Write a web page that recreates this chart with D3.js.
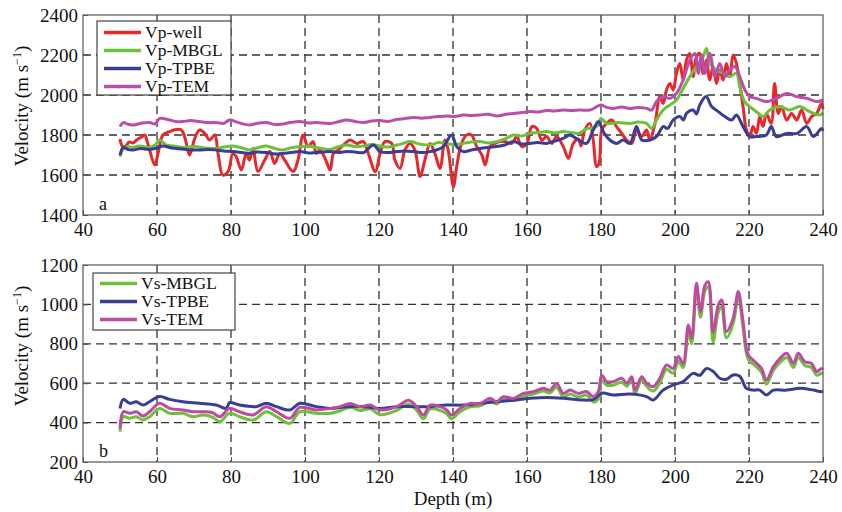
<!DOCTYPE html>
<html>
<head>
<meta charset="utf-8">
<script src="https://cdn.jsdelivr.net/npm/d3@7/dist/d3.min.js"></script>
<style>
  body { margin: 0; background: #fff; }
  svg text { font-family: "Liberation Serif", "Times New Roman", serif; fill: #111; }
</style>
</head>
<body>
<div id="chart"></div>
<script>
// depth ticks and velocity ticks
const depthTicks = [40, 60, 80, 100, 120, 140, 160, 180, 200, 220, 240]
const vpTicks = [1400, 1600, 1800, 2000, 2200, 2400]
const vsTicks = [200, 400, 600, 800, 1000, 1200]

// panel a: [depth, Vp]
const vpWell = [[50,1780],[50.6,1745],[51.3,1740],[52.5,1765],[53.5,1760],[54.5,1775],[55.8,1790],[56.7,1800],[57.3,1770],[58,1725],[59.4,1650],[60.3,1710],[61.6,1800],[63.4,1817],[65.2,1828],[66.6,1825],[67.5,1790],[68.8,1700],[70.2,1783],[71.5,1825],[72.9,1808],[74.2,1775],[75.6,1800],[76.5,1708],[77.8,1600],[79.2,1617],[80.5,1708],[81.4,1692],[82.8,1625],[84.1,1708],[85,1675],[85.9,1733],[87.3,1617],[89.1,1675],[90.5,1717],[91.8,1658],[93.2,1708],[94.5,1675],[96.8,1617],[98.1,1675],[99.5,1800],[100.8,1742],[102.2,1767],[103,1708],[104,1725],[105.5,1680],[106.8,1625],[107.7,1708],[109,1725],[110.4,1750],[112.2,1775],[114,1758],[115.8,1767],[117.1,1708],[119,1617],[120.3,1708],[121.6,1767],[123.4,1758],[124.3,1675],[125.7,1633],[127,1725],[128.4,1758],[129.7,1725],[131.1,1592],[132.4,1675],[133.8,1758],[135.1,1708],[136.5,1633],[137.8,1775],[138.7,1725],[140.1,1542],[141,1642],[142.3,1758],[143.7,1800],[145,1800],[146.4,1742],[147.8,1700],[148.7,1650],[150,1742],[151.4,1758],[152.7,1767],[154,1767],[155.9,1758],[157.2,1792],[158.6,1742],[160,1758],[161.3,1842],[162.6,1833],[164,1775],[165.3,1792],[166.7,1758],[168,1792],[169.8,1742],[171.2,1683],[172.5,1758],[173.9,1780],[174.6,1745],[175.6,1825],[177,1858],[177.9,1775],[178.8,1642],[179.5,1660],[180.2,1825],[181.5,1858],[182.9,1875],[184.2,1842],[185.6,1808],[186.9,1775],[188.3,1758],[189.6,1825],[191,1792],[192.3,1825],[193.2,1775],[194.6,1858],[195.9,1992],[196.8,1958],[197.7,2025],[198.6,2058],[199.5,2025],[200.4,2108],[201.3,2158],[202.2,2075],[203.1,2175],[204,2208],[204.9,2092],[205.8,2192],[206.7,2208],[207.6,2108],[208.5,2175],[209.4,2075],[210.3,2142],[211.2,2058],[212.1,2125],[213,2075],[213.9,2158],[214.8,2092],[215.7,2200],[216.6,2158],[217.5,2058],[218.4,1942],[219.3,1825],[220.2,1792],[221.1,1842],[222,1808],[222.9,1892],[223.8,1842],[224.7,1908],[226,1858],[226.9,2058],[227.9,1908],[228.8,1942],[230.2,1875],[231.5,1908],[232.9,1875],[234.2,1925],[235.6,1858],[236.9,1892],[238.3,1908],[239.6,1958],[240,1930]]
const vpMBGL = [[50,1692],[50.9,1733],[52,1742],[53.5,1738],[55,1745],[58,1738],[59.5,1750],[60.7,1775],[62.5,1750],[64.5,1745],[67,1738],[70,1742],[73,1735],[76,1733],[78,1740],[80.5,1745],[83,1735],[85,1725],[87,1735],[89.5,1745],[92,1732],[94,1725],[96,1735],[98.6,1742],[101,1745],[103,1738],[106.8,1728],[109,1742],[111.3,1750],[113.5,1742],[115.8,1745],[118,1752],[120.3,1745],[122.5,1740],[124.8,1750],[126.5,1758],[128.4,1767],[131,1755],[133.8,1750],[136,1762],[138.3,1758],[140.5,1752],[142.8,1758],[145,1765],[147.3,1767],[149.5,1760],[151.8,1767],[154,1780],[156.3,1800],[158.5,1795],[160.8,1808],[163,1812],[165.3,1817],[167.5,1810],[169.8,1817],[172,1812],[173.9,1808],[176,1830],[178.8,1842],[180,1883],[181.5,1858],[184.5,1862],[187.8,1858],[190,1865],[192.3,1858],[193.7,1833],[195,1875],[196.8,1925],[198.6,1950],[200.4,1975],[202.2,2033],[204,2092],[205.8,2142],[207.6,2192],[208.5,2233],[209.4,2158],[211.2,2125],[213,2108],[214.8,2092],[216.6,2108],[217.5,2042],[218.8,1967],[220.2,1942],[222,1917],[223.8,1892],[225.6,1925],[228.3,1942],[231,1925],[233.7,1942],[236.4,1917],[239,1900],[240,1910]]
const vpTPBE = [[50,1700],[50.9,1738],[52,1728],[53.5,1725],[55.5,1732],[58,1728],[60,1735],[61.6,1745],[64,1735],[67,1730],[69,1725],[71.5,1725],[74,1728],[76,1725],[78,1720],[80.5,1717],[83,1712],[85,1708],[87,1715],[89.5,1712],[92,1705],[94,1708],[96,1712],[98.6,1717],[101,1710],[103,1712],[106.8,1717],[109,1712],[111.3,1717],[113.5,1715],[115.8,1712],[118.5,1750],[120.3,1717],[122.5,1712],[124.8,1717],[127,1720],[129.3,1717],[131.5,1712],[133.8,1717],[135.5,1725],[137.4,1742],[139.6,1800],[141,1742],[142.8,1717],[145,1725],[147.3,1733],[149.5,1738],[151.8,1742],[154,1750],[156.3,1767],[158.5,1755],[160.8,1758],[163,1762],[165.3,1758],[167.5,1770],[169.8,1783],[171.6,1800],[173.9,1775],[176.1,1758],[177.9,1825],[179.3,1867],[180.6,1817],[182.4,1775],[184.2,1758],[186,1775],[187.8,1758],[189.6,1842],[191,1775],[193.2,1775],[195,1792],[196.8,1842],[198,1833],[199.5,1875],[201.3,1892],[202.3,1875],[203.1,1908],[204.9,1925],[205.8,1905],[206.7,1950],[208.4,1992],[209.9,1942],[211.7,1917],[213.5,1892],[215.3,1875],[216.6,1900],[218.4,1842],[220.2,1792],[222,1792],[224.7,1800],[226,1842],[227.4,1792],[230.2,1808],[233,1808],[235.6,1842],[237.4,1792],[239.6,1833],[240,1820]]
const vpTEM = [[50,1842],[50.9,1862],[52,1855],[53.5,1850],[55.5,1858],[58,1862],[59.5,1855],[60.7,1883],[63.4,1875],[65,1868],[67,1867],[69,1872],[71.5,1867],[74,1862],[76,1862],[78,1858],[79.6,1875],[82,1862],[85,1850],[87,1858],[89.5,1862],[92,1852],[94,1855],[96,1862],[98.6,1867],[101,1860],[103,1862],[106.8,1858],[109,1866],[111.3,1875],[113.5,1868],[115.8,1862],[118,1870],[120.3,1872],[122.5,1868],[124.8,1878],[127,1882],[129.3,1888],[131.5,1884],[133.8,1888],[136,1892],[138.3,1895],[140.5,1892],[142.8,1900],[145,1898],[147.3,1900],[149.5,1904],[151.8,1895],[154,1902],[156.3,1908],[158.5,1912],[160.8,1917],[163,1915],[165.3,1922],[167.5,1920],[169.8,1925],[172,1922],[174.3,1925],[177,1925],[180,1950],[181.5,1938],[183.3,1933],[185.5,1940],[187.8,1933],[190,1938],[192.3,1933],[193.7,1925],[195,1967],[196.8,1992],[198.6,1983],[200.4,2008],[202.2,2075],[204,2175],[205.4,2208],[206.3,2108],[207.2,2200],[208.1,2108],[209.4,2208],[210.8,2092],[212.1,2158],[213.5,2092],[214.8,2125],[216.2,2142],[217.5,2092],[218.9,2025],[220.2,1992],[222,1983],[224.7,1967],[227.4,1983],[230.2,2008],[232.9,1992],[235.6,1983],[238.3,1967],[240,1975]]

// panel b: [depth, Vs]
const vsMBGL = [[50,354],[50.9,430],[52.6,422],[54.4,430],[56.2,413],[58,430],[60.7,472],[63.4,447],[67,447],[69.7,430],[72.4,438],[75,428],[77,405],[79.6,447],[82.3,430],[86,413],[89.5,455],[92.3,430],[95.9,396],[98.6,455],[103,447],[106.8,447],[109.5,460],[112.2,478],[114.9,462],[117.6,470],[120.3,440],[124.8,462],[128,495],[130.2,462],[132,420],[133.8,470],[136.5,462],[138.3,445],[139.6,420],[141.9,455],[144.6,480],[147.3,485],[150,510],[151.8,495],[153.6,518],[156.3,512],[159,535],[161.7,545],[164.4,560],[166.2,550],[168,580],[169.8,530],[171.6,545],[173.9,530],[176.1,540],[177.9,505],[179.3,520],[180.2,615],[181.5,590],[183.3,590],[185.6,605],[187,585],[188.3,615],[189.2,548],[191,615],[192.3,585],[194.1,560],[195.9,600],[197.7,670],[199.5,650],[200.9,710],[202.2,680],[203.6,860],[204.5,800],[205.8,1080],[206.9,935],[208.1,1070],[209,1090],[210.3,810],[211.7,960],[212.6,990],[213.9,830],[215.7,900],[217.1,1040],[218.4,880],[219.8,720],[221.6,690],[223.4,655],[224.7,595],[226.6,665],[228.4,705],[230.2,730],[232,680],[233.3,730],[235.1,690],[236.9,680],[238.3,640],[239.6,650],[240,648]]
const vsTPBE = [[50,472],[50.9,518],[52.6,498],[54.4,506],[56.2,489],[58,506],[60.7,532],[63.4,518],[67,506],[71.5,498],[76,489],[78.7,472],[79.6,501],[82.3,489],[86.8,481],[89.5,498],[92.3,481],[95.9,464],[98.6,498],[103,481],[106.8,472],[111.3,481],[115.8,481],[120.3,472],[124.8,481],[129.3,481],[133.8,481],[138.3,489],[142.8,489],[147.3,497],[151.8,506],[156.3,514],[160.8,523],[165.3,527],[169.8,523],[174.3,515],[177.9,517],[180.2,549],[183.3,540],[187.8,545],[192.3,532],[194.1,515],[196.8,565],[199.5,591],[202.2,608],[204.9,650],[206.7,640],[208.5,675],[210.3,660],[212.1,625],[213.9,620],[215.7,642],[217.5,635],[219.3,574],[221.1,565],[222.9,565],[224.7,540],[226.6,565],[230.2,565],[233.8,574],[237.4,565],[239.6,557],[240,560]]
const vsTEM = [[50,370],[50.9,455],[52.6,447],[54.4,455],[56.2,433],[58,455],[60.7,498],[63.4,472],[67,464],[69.7,455],[72.4,455],[75,450],[77,430],[79.6,472],[82.3,455],[86,439],[89.5,481],[92.3,455],[95.9,422],[98.6,477],[103,464],[106.8,472],[109.5,481],[112.2,497],[114.9,481],[117.6,489],[120.3,464],[124.8,481],[128,514],[130.2,481],[132,438],[133.8,489],[136.5,481],[138.3,464],[139.6,438],[141.9,472],[144.6,497],[147.3,497],[150,523],[151.8,506],[153.6,531],[156.3,523],[159,548],[161.7,557],[164.4,574],[166.2,565],[168,599],[169.8,548],[171.6,565],[173.9,548],[176.1,558],[177.9,532],[179.3,560],[180.2,642],[181.5,608],[183.3,608],[185.6,625],[187,600],[188.3,633],[189.2,565],[191,633],[192.3,600],[194.1,582],[195.9,625],[197.7,692],[199.5,675],[200.9,735],[202.2,700],[203.6,895],[204.5,828],[205.8,1107],[206.9,963],[208.1,1098],[209,1115],[210.3,860],[211.7,997],[212.6,1022],[213.9,862],[215.7,929],[217.1,1065],[218.4,912],[219.8,743],[221.6,709],[223.4,675],[224.7,616],[226.6,684],[228.4,726],[230.2,752],[232,701],[233.3,752],[235.1,709],[236.9,700],[238.3,659],[239.6,675],[240,670]]

const red = '#e8272b', green = '#6cc03a', blue = '#3a3d94', magenta = '#bb4ea9', pink = '#c04aa0'

const W = 842, H = 512
const svg = d3.select('#chart').append('svg')
  .attr('width', W).attr('height', H)

const x = d3.scaleLinear().domain([40, 240]).range([83, 823])

function panel (top, bottom, yTicks, series, legend, letter, labelY) {
  let y = d3.scaleLinear().domain([yTicks[0], yTicks[yTicks.length - 1]]).range([bottom, top])
  let g = svg.append('g')

  // dashed grid
  g.selectAll('.gx').data(depthTicks.slice(1, -1)).enter().append('line')
    .attr('x1', d => x(d)).attr('x2', d => x(d))
    .attr('y1', top).attr('y2', bottom)
    .attr('stroke', '#333').attr('stroke-width', 1.3).attr('stroke-dasharray', '8,5')
  g.selectAll('.gy').data(yTicks.slice(1, -1)).enter().append('line')
    .attr('x1', x(40)).attr('x2', x(240))
    .attr('y1', d => y(d)).attr('y2', d => y(d))
    .attr('stroke', '#333').attr('stroke-width', 1.3).attr('stroke-dasharray', '8,5')

  let line = d3.line().x(d => x(d[0])).y(d => y(d[1])).curve(d3.curveCatmullRom.alpha(0.5))
  series.forEach(s => {
    g.append('path').datum(s.data)
      .attr('d', line)
      .attr('fill', 'none')
      .attr('stroke', s.color)
      .attr('stroke-width', 3)
      .attr('stroke-linejoin', 'round')
  })

  // box
  g.append('rect')
    .attr('x', x(40)).attr('y', top)
    .attr('width', x(240) - x(40)).attr('height', bottom - top)
    .attr('fill', 'none').attr('stroke', '#555').attr('stroke-width', 1.2)

  // axes
  g.append('g').attr('transform', `translate(0,${bottom})`)
    .call(d3.axisBottom(x).tickValues(depthTicks).tickSize(-5).tickPadding(8).tickFormat(d3.format('d')))
    .call(a => a.select('.domain').remove())
    .call(a => a.selectAll('line').attr('stroke', '#555'))
    .call(a => a.selectAll('text').attr('font-size', 19).style('font-family', '"Liberation Serif", serif').attr('fill', '#111'))
  g.append('g').attr('transform', `translate(${x(40)},0)`)
    .call(d3.axisLeft(y).tickValues(yTicks).tickSize(-5).tickPadding(5).tickFormat(d3.format('d')))
    .call(a => a.select('.domain').remove())
    .call(a => a.selectAll('line').attr('stroke', '#555'))
    .call(a => a.selectAll('text').attr('font-size', 19).style('font-family', '"Liberation Serif", serif').attr('fill', '#111'))

  // legend
  let lg = g.append('g')
  lg.append('rect')
    .attr('x', legend.x).attr('y', legend.y)
    .attr('width', legend.w).attr('height', legend.h)
    .attr('fill', '#fff').attr('stroke', '#444').attr('stroke-width', 1.2)
  series.slice().sort((a, b) => a.order - b.order).forEach((s, i) => {
    let ly = legend.row0 + i * legend.step
    lg.append('line')
      .attr('x1', legend.x + 7).attr('x2', legend.x + 44)
      .attr('y1', ly).attr('y2', ly)
      .attr('stroke', s.color).attr('stroke-width', 3.5)
    lg.append('text')
      .attr('x', legend.x + 48).attr('y', ly + 5.5)
      .attr('font-size', 17.5)
      .text(s.name)
  })

  g.append('text').attr('x', 99).attr('y', bottom - 5).attr('font-size', 18).text(letter)

  g.append('text')
    .attr('transform', `translate(28,${labelY}) rotate(-90)`)
    .attr('text-anchor', 'middle')
    .attr('font-size', 19)
    .html('Velocity (m s<tspan dy="-7" font-size="12">−1</tspan><tspan dy="7">)</tspan>')
}

panel(15, 215, vpTicks, [
  { name: 'Vp-well', color: red, data: vpWell, order: 0 },
  { name: 'Vp-MBGL', color: green, data: vpMBGL, order: 1 },
  { name: 'Vp-TPBE', color: blue, data: vpTPBE, order: 2 },
  { name: 'Vp-TEM', color: magenta, data: vpTEM, order: 3 }
], { x: 97, y: 21, w: 134, h: 74, row0: 32.5, step: 18 }, 'a', 106)

panel(265, 462, vsTicks, [
  { name: 'Vs-MBGL', color: green, data: vsMBGL, order: 0 },
  { name: 'Vs-TPBE', color: blue, data: vsTPBE, order: 1 },
  { name: 'Vs-TEM', color: pink, data: vsTEM, order: 2 }
], { x: 93, y: 273, w: 142, h: 57, row0: 283.5, step: 18 }, 'b', 346)

svg.append('text')
  .attr('x', 453).attr('y', 505)
  .attr('text-anchor', 'middle')
  .attr('font-size', 19)
  .text('Depth (m)')
</script>
</body>
</html>
